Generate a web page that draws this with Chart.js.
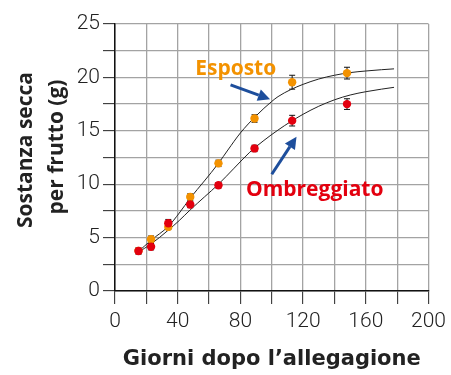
<!DOCTYPE html>
<html>
<head>
<meta charset="utf-8">
<script src="https://cdn.jsdelivr.net/npm/chart.js@4.4.1/dist/chart.umd.min.js"></script>
<style>
  html, body { margin: 0; padding: 0; background: #fff; }
  #wrap { width: 451px; height: 375px; }
</style>
</head>
<body>
<div id="wrap"><canvas id="grafico" width="451" height="375"></canvas></div>
<script>
// valori
const giorni = [15, 23, 34, 48, 66, 89, 113, 148];
const esposto = [3.76, 4.85, 6.0, 8.8, 11.95, 16.15, 19.55, 20.4];
const espostoErr = [0.25, 0.3, 0.25, 0.3, 0.3, 0.35, 0.65, 0.55];
const ombreggiato = [3.74, 4.15, 6.35, 8.1, 9.9, 13.35, 15.95, 17.5];
const ombreggiatoErr = [0.3, 0.3, 0.35, 0.3, 0.25, 0.3, 0.5, 0.5];

// curve di tendenza (punti letti lungo le linee)
const curvaEspostoX = [15, 23, 34, 41, 48, 57, 66, 72, 80, 90, 100, 104, 112, 120, 130, 140, 150, 160, 170, 178];
const curvaEspostoY = [3.7, 4.75, 6.05, 7.3, 8.7, 10.3, 11.96, 13.2, 14.8, 16.4, 17.75, 18.2, 18.85, 19.35, 19.85, 20.2, 20.45, 20.6, 20.72, 20.8];
const curvaOmbrX = [15, 23, 34, 41, 48, 57, 66, 76, 86, 95, 104, 112, 120, 130, 140, 150, 160, 170, 178];
const curvaOmbrY = [3.65, 4.4, 5.7, 6.6, 7.6, 8.8, 10.0, 11.5, 13.0, 14.1, 15.07, 15.85, 16.55, 17.3, 17.9, 18.35, 18.66, 18.9, 19.07];

const xTickLabels = [0, 40, 80, 120, 160, 200];
const yTickLabels = [0, 5, 10, 15, 20, 25];
const titoloY = ["Sostanza secca", "per frutto (g)"];

const ARANCIO = "#f39200";
const ROSSO = "#e3000f";
const BLU = "#1d4e9c";

const punti = (xs, ys) => xs.map((x, i) => ({ x: x, y: ys[i] }));

// barre d'errore
const erroriPlugin = {
  id: "errori",
  beforeDatasetsDraw(chart) {
    const ctx = chart.ctx;
    const xs = chart.scales.x;
    const ys = chart.scales.y;
    const serie = [
      [esposto, espostoErr],
      [ombreggiato, ombreggiatoErr],
    ];
    ctx.save();
    ctx.strokeStyle = "#111";
    ctx.lineWidth = 1;
    serie.forEach(([vals, errs]) => {
      giorni.forEach((g, i) => {
        const px = xs.getPixelForValue(g);
        const y1 = ys.getPixelForValue(vals[i] + errs[i]);
        const y2 = ys.getPixelForValue(vals[i] - errs[i]);
        ctx.beginPath();
        ctx.moveTo(px, y1);
        ctx.lineTo(px, y2);
        ctx.moveTo(px - 3, y1);
        ctx.lineTo(px + 3, y1);
        ctx.moveTo(px - 3, y2);
        ctx.lineTo(px + 3, y2);
        ctx.stroke();
      });
    });
    ctx.restore();
  },
};

// etichette e frecce
const etichette = [
  { testo: "Esposto", x: 77, y: 20.2, colore: ARANCIO, da: [73.7, 19.3], a: [98.9, 17.95] },
  { testo: "Ombreggiato", x: 127.4, y: 8.94, colore: ROSSO, da: [100, 10.93], a: [115.8, 14.45] },
];

const freccia = (ctx, x1, y1, x2, y2) => {
  const ang = Math.atan2(y2 - y1, x2 - x1);
  const lung = 12;
  const bx = x2 - lung * Math.cos(ang);
  const by = y2 - lung * Math.sin(ang);
  ctx.beginPath();
  ctx.moveTo(x1, y1);
  ctx.lineTo(bx, by);
  ctx.stroke();
  ctx.beginPath();
  ctx.moveTo(x2, y2);
  ctx.lineTo(bx + 6 * Math.sin(ang), by - 6 * Math.cos(ang));
  ctx.lineTo(bx - 6 * Math.sin(ang), by + 6 * Math.cos(ang));
  ctx.closePath();
  ctx.fill();
};

const etichettePlugin = {
  id: "etichette",
  afterDraw(chart) {
    const ctx = chart.ctx;
    const xs = chart.scales.x;
    const ys = chart.scales.y;
    ctx.save();
    etichette.forEach((e) => {
      ctx.font = "bold 21px 'Open Sans'";
      ctx.fillStyle = e.colore;
      ctx.textAlign = "center";
      ctx.textBaseline = "alphabetic";
      ctx.fillText(e.testo, xs.getPixelForValue(e.x), ys.getPixelForValue(e.y));
      ctx.strokeStyle = BLU;
      ctx.fillStyle = BLU;
      ctx.lineWidth = 3;
      freccia(
        ctx,
        xs.getPixelForValue(e.da[0]),
        ys.getPixelForValue(e.da[1]),
        xs.getPixelForValue(e.a[0]),
        ys.getPixelForValue(e.a[1])
      );
    });

    // titolo asse y, due righe ruotate
    ctx.font = "bold 21px 'Open Sans'";
    ctx.fillStyle = "#222";
    ctx.textAlign = "center";
    ctx.textBaseline = "alphabetic";
    ctx.translate(0, 150);
    ctx.rotate(-Math.PI / 2);
    ctx.fillText(titoloY[0], 0, 31.5);
    ctx.fillText(titoloY[1], 3, 63);
    ctx.restore();
  },
};

const ctx = document.getElementById("grafico");

new Chart(ctx, {
  type: "scatter",
  data: {
    datasets: [
      {
        label: "Ombreggiato",
        data: punti(giorni, ombreggiato),
        backgroundColor: ROSSO,
        borderColor: ROSSO,
        pointRadius: 4.2,
        borderWidth: 0,
      },
      {
        label: "Esposto",
        data: punti(giorni, esposto),
        backgroundColor: ARANCIO,
        borderColor: ARANCIO,
        pointRadius: 4.2,
        borderWidth: 0,
      },
      {
        type: "line",
        label: "curva esposto",
        data: punti(curvaEspostoX, curvaEspostoY),
        borderColor: "#222",
        borderWidth: 1,
        pointRadius: 0,
        cubicInterpolationMode: "monotone",
        fill: false,
      },
      {
        type: "line",
        label: "curva ombreggiato",
        data: punti(curvaOmbrX, curvaOmbrY),
        borderColor: "#222",
        borderWidth: 1,
        pointRadius: 0,
        cubicInterpolationMode: "monotone",
        fill: false,
      },
    ],
  },
  options: {
    responsive: false,
    animation: false,
    layout: { padding: { top: 24, right: 19, left: 0, bottom: 0 } },
    plugins: {
      legend: { display: false },
      tooltip: { enabled: false },
    },
    scales: {
      x: {
        type: "linear",
        min: 0,
        max: 200,
        afterFit: (s) => { s.height = 84; },
        ticks: {
          stepSize: 20,
          autoSkip: false,
          maxRotation: 0,
          padding: 5,
          color: "#222",
          font: { family: "Roboto", weight: "300", size: 21 },
          callback: (v) => (xTickLabels.includes(v) ? v : ""),
        },
        grid: {
          color: "#a3a3a3",
          lineWidth: 1.3,
          tickLength: 13,
          tickColor: "#222",
          tickWidth: 1,
        },
        border: { color: "#111", width: 1.5 },
        title: {
          display: true,
          text: "Giorni dopo l’allegagione",
          color: "#222",
          font: { family: "DejaVu Sans", weight: "bold", size: 21 },
          padding: { top: 0, bottom: 3 },
        },
      },
      y: {
        min: 0,
        max: 25,
        afterFit: (s) => { s.width = 115; },
        ticks: {
          stepSize: 2.5,
          autoSkip: false,
          padding: 3,
          color: "#222",
          font: { family: "Roboto", weight: "300", size: 21 },
          callback: (v) => (yTickLabels.includes(v) ? v : ""),
        },
        grid: {
          color: "#a3a3a3",
          lineWidth: 1.3,
          tickLength: 12,
          tickColor: "#222",
          tickWidth: 1,
        },
        border: { color: "#111", width: 1.5 },
      },
    },
  },
  plugins: [erroriPlugin, etichettePlugin],
});
</script>
</body>
</html>
